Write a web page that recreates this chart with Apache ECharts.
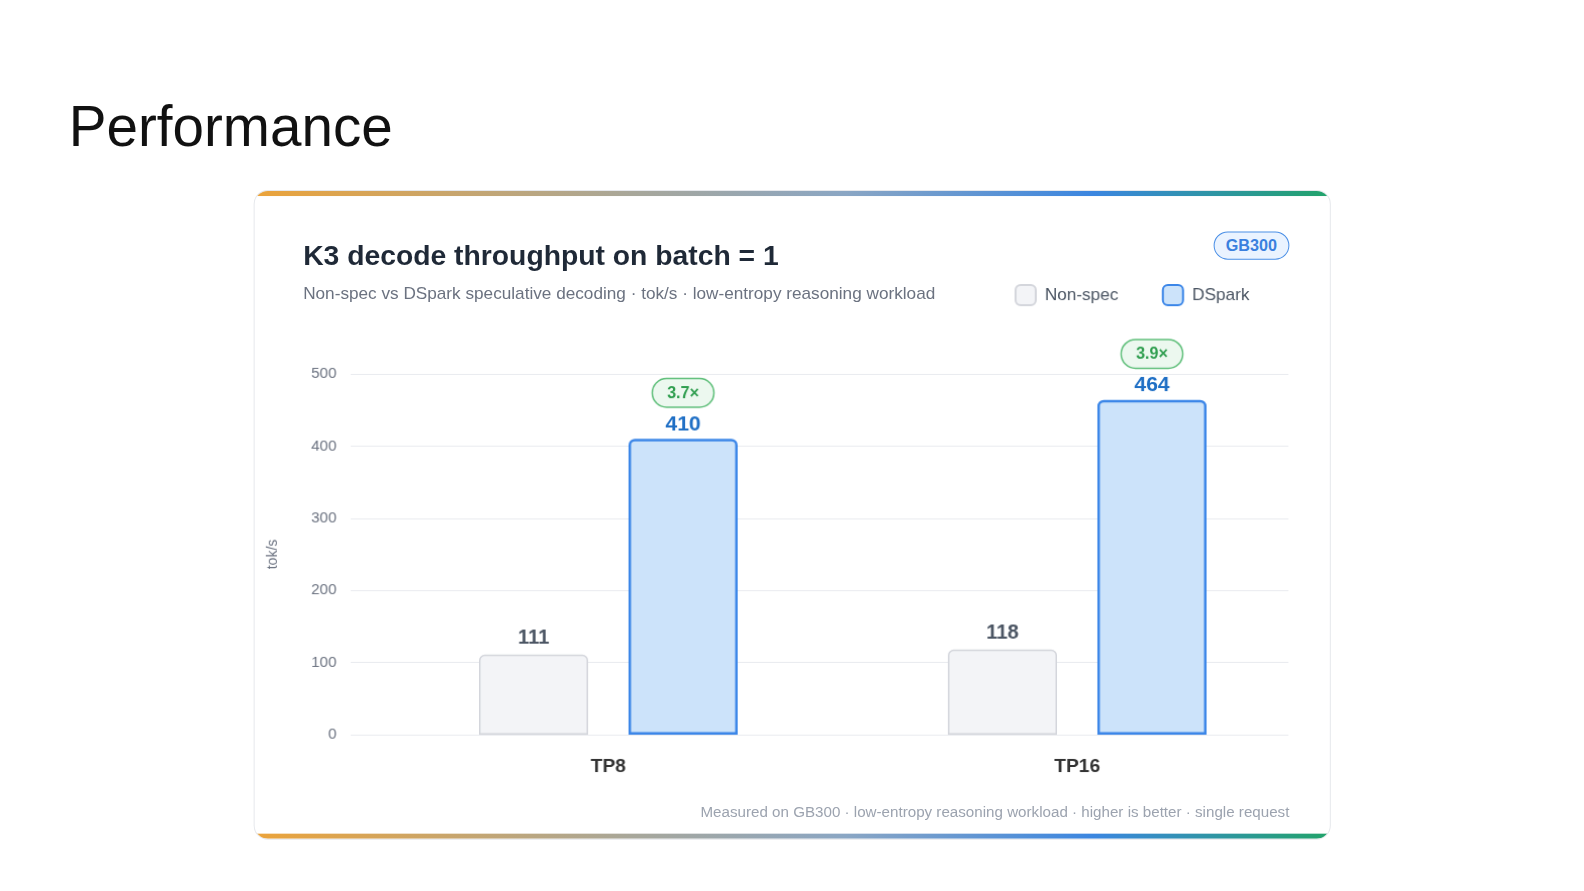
<!DOCTYPE html>
<html>
<head>
<meta charset="utf-8">
<script src="https://cdn.jsdelivr.net/npm/echarts@6/dist/echarts.min.js"></script>
<style>
  html, body { margin: 0; padding: 0; background: #fff; font-family: "Liberation Sans", Arial, sans-serif; overflow: hidden; }
  #page { position: relative; width: 1584px; height: 891px; overflow: hidden; transform: scale(1.0105); transform-origin: 0 0; }
  #h1 { position: absolute; left: 68px; top: 92px; font-size: 56px; color: #111; }
  #card { position: absolute; left: 251px; top: 188px; width: 1064px; height: 641px;
          border: 1px solid #e6e8ec; border-radius: 14px; overflow: hidden; background: #fff; }
  .bar { position: absolute; left: 0; right: 0; height: 5px;
         background: linear-gradient(90deg, #eba33a 0%, #a8a79a 35%, #8aa6c4 55%, #3b86e0 78%, #22a36a 100%); }
  #ttl { position: absolute; left: 48px; top: 48px; font-size: 28px; font-weight: bold; color: #1f2937; }
  #sub { position: absolute; left: 48px; top: 92px; font-size: 17px; color: #6b7280; }
  #badge { position: absolute; left: 949px; top: 40px; padding: 4px 11px; border: 1.5px solid #4a8fe6;
           border-radius: 16px; background: #eaf3ff; color: #3a80de; font-weight: bold; font-size: 16px; }
  #foot { position: absolute; right: 40px; top: 606px; font-size: 15px; color: #9ca3af; }
  #chart { position: absolute; left: 0; top: 0; width: 1584px; height: 891px; }
</style>
</head>
<body>
<div id="page">
  <div id="h1">Performance</div>
  <div id="card">
    <div class="bar" style="top:0"></div>
    <div class="bar" style="bottom:0"></div>
    <div id="ttl">K3 decode throughput on batch = 1</div>
    <div id="sub">Non-spec vs DSpark speculative decoding · tok/s · low-entropy reasoning workload</div>
    <div id="badge">GB300</div>
    <div id="foot">Measured on GB300 · low-entropy reasoning workload · higher is better · single request</div>
  </div>
  <div id="chart"></div>
</div>
<script>
var categories = ['TP8', 'TP16'];
var nonSpec = [111, 118];
var dspark = [410, 464];
var speedup = ['3.7×', '3.9×'];

var chart = echarts.init(document.getElementById('chart'));
chart.setOption({
  animation: false,
  textStyle: { fontFamily: 'Liberation Sans, Arial, sans-serif' },
  legend: {
    left: 999, top: 276, itemGap: 43, itemWidth: 20, itemHeight: 20,
    icon: 'roundRect',
    textStyle: { fontSize: 17, color: '#4b5563', padding: [0, 0, 0, 4] },
    data: ['Non-spec', 'DSpark']
  },
  grid: [
    { left: 347, right: 309, top: 370, bottom: 164 },
    { left: 370, right: 286, top: 370, bottom: 164 }
  ],
  xAxis: [
    { type: 'category', gridIndex: 0, data: categories, show: false },
    {
      type: 'category', gridIndex: 1, data: categories,
      axisLine: { show: false }, axisTick: { show: false },
      axisLabel: { fontSize: 19, fontWeight: 'bold', color: '#333', margin: 22 }
    }
  ],
  yAxis: [
    {
      type: 'value', gridIndex: 0, min: 0, max: 500, interval: 100,
      name: 'tok/s', nameLocation: 'middle', nameGap: 70, nameRotate: 90,
      nameTextStyle: { color: '#6b7280', fontSize: 14 },
      axisLabel: { color: '#6b7280', fontSize: 15, margin: 14 },
      splitLine: { lineStyle: { color: '#e9ebef' } }
    },
    { type: 'value', gridIndex: 1, min: 0, max: 500, interval: 100, show: false, splitLine: { show: false } }
  ],
  series: [
    {
      name: 'Non-spec', type: 'bar', xAxisIndex: 1, yAxisIndex: 1, data: nonSpec, barWidth: 108, barGap: '37%',
      itemStyle: { color: '#f3f4f7', borderColor: '#d4d6dc', borderWidth: 1.5, borderRadius: [5, 5, 0, 0] },
      label: { show: true, position: 'top', distance: 6, fontSize: 20, fontWeight: 'bold', color: '#4b5563' }
    },
    {
      name: 'DSpark', type: 'bar', xAxisIndex: 1, yAxisIndex: 1, data: dspark, barWidth: 108,
      itemStyle: { color: '#cce3fa', borderColor: '#3b86e8', borderWidth: 2.5, borderRadius: [5, 5, 0, 0] },
      label: {
        show: true, position: 'top', distance: 4,
        formatter: function (p) { return '{r|' + speedup[p.dataIndex] + '}\n{v|' + p.value + '}'; },
        rich: {
          r: { fontSize: 16, fontWeight: 'bold', color: '#2f9e4f', backgroundColor: '#ecf8ef',
               borderColor: '#5fbf7a', borderWidth: 1.5, borderRadius: 15, padding: [6, 14, 5, 14], align: 'center' },
          v: { fontSize: 21, fontWeight: 'bold', color: '#1f6fc5', align: 'center', padding: [7, 0, 0, 0] }
        }
      }
    }
  ]
});
</script>
</body>
</html>
